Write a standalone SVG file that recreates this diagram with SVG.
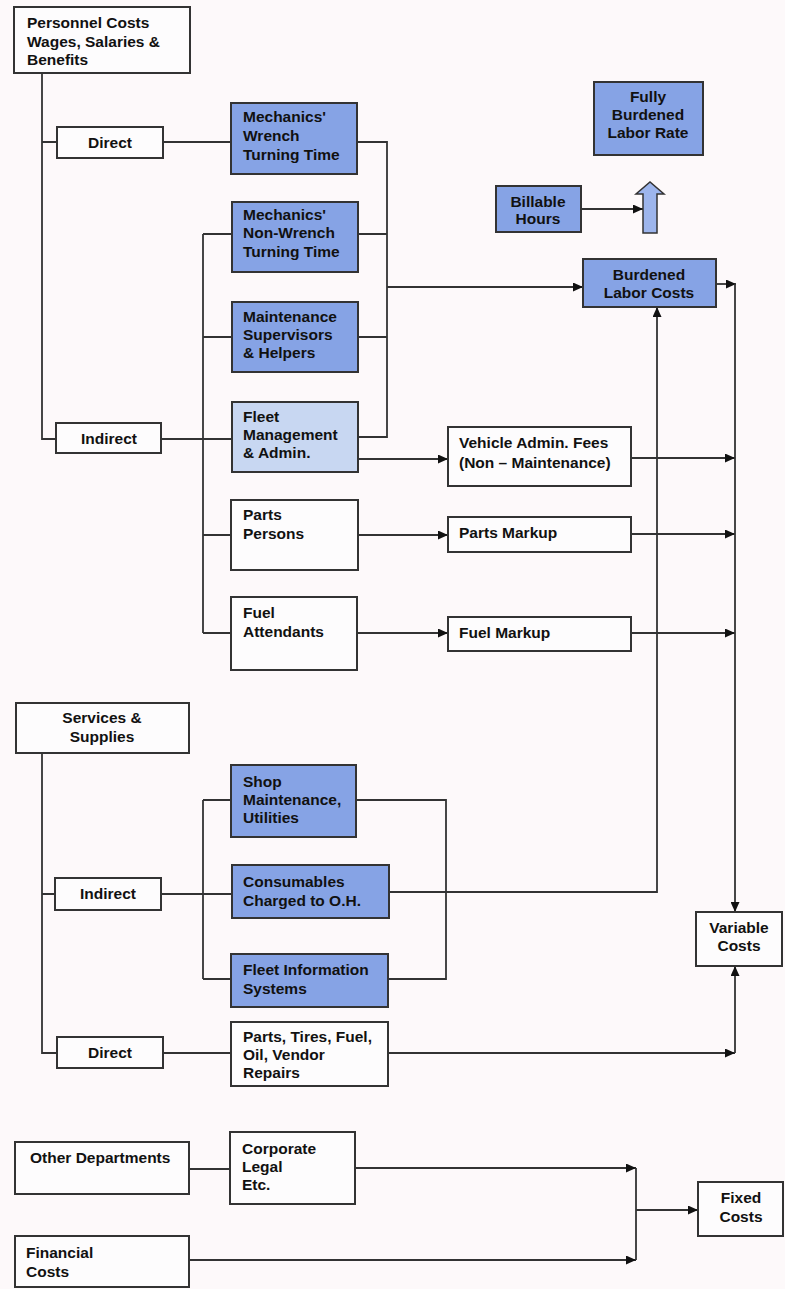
<svg xmlns="http://www.w3.org/2000/svg" width="785" height="1289" viewBox="0 0 785 1289">
<style>
.bg{fill:#fdf9fa}
.box{fill:#fdfcfd;stroke:#333;stroke-width:2}
.blue{fill:#86a3e5;stroke:#333;stroke-width:2}
.light{fill:#c8d7f2;stroke:#333;stroke-width:2}
.t{font-family:"Liberation Sans",Arial,sans-serif;font-weight:bold;font-size:15.5px;fill:#111}
.c{text-anchor:middle}
.ln{fill:none;stroke:#333;stroke-width:1.8}
</style>
<defs>
<marker id="ah" markerUnits="userSpaceOnUse" markerWidth="11" markerHeight="9" refX="10" refY="4.5" orient="auto">
<path d="M0,0 L10,4.5 L0,9 Z" fill="#111"/>
</marker>
</defs>
<rect class="bg" x="0" y="0" width="785" height="1289"/>
<g id="connectors">
<path class="ln" d="M42,73 V439 H56 M42,142 H57"/>
<path class="ln" d="M163,142 H231"/>
<path class="ln" d="M161,439 H232 M203,234 V633 M203,234 H232 M203,337 H232 M203,535 H231 M203,633 H231"/>
<path class="ln" d="M357,142 H387 V437 H358 M358,234 H387 M358,337 H387"/>
<path class="ln" d="M387,287 H583" marker-end="url(#ah)"/>
<path class="ln" d="M358,459 H448" marker-end="url(#ah)"/>
<path class="ln" d="M358,535 H448" marker-end="url(#ah)"/>
<path class="ln" d="M358,633 H448" marker-end="url(#ah)"/>
<path class="ln" d="M631,458 H735" marker-end="url(#ah)"/>
<path class="ln" d="M631,534 H735" marker-end="url(#ah)"/>
<path class="ln" d="M631,633 H735" marker-end="url(#ah)"/>
<path class="ln" d="M716,284 H736" marker-end="url(#ah)"/>
<path class="ln" d="M735,284 V912" marker-end="url(#ah)"/>
<path class="ln" d="M389,892 H657 V307" marker-end="url(#ah)"/>
<path class="ln" d="M356,800 H446 V979 H388"/>
<path class="ln" d="M42,753 V1053 H57 M42,894 H55"/>
<path class="ln" d="M161,894 H232 M203,800 V979 M203,800 H231 M203,979 H231"/>
<path class="ln" d="M163,1053 H231"/>
<path class="ln" d="M388,1053 H735" marker-end="url(#ah)"/>
<path class="ln" d="M735,1053 V966" marker-end="url(#ah)"/>
<path class="ln" d="M189,1169 H230"/>
<path class="ln" d="M355,1168 H636" marker-end="url(#ah)"/>
<path class="ln" d="M189,1260 H636" marker-end="url(#ah)"/>
<path class="ln" d="M636,1168 V1260"/>
<path class="ln" d="M636,1210 H698" marker-end="url(#ah)"/>
<path class="ln" d="M581,209 H643" marker-end="url(#ah)"/>
<polygon points="643,233 657,233 657,194 664,194 650,182 636,194 643,194" fill="#9db5ec" stroke="#333" stroke-width="1.5"/>
</g>
<g id="personnel"><rect class="box" x="14" y="7" width="176" height="66"/>
<text class="t" x="27" y="28">Personnel Costs</text><text class="t" x="27" y="47">Wages, Salaries &amp;</text><text class="t" x="27" y="65">Benefits</text></g>
<g id="direct1"><rect class="box" x="57" y="127" width="106" height="31"/><text class="t c" x="110" y="148">Direct</text></g>
<g id="wrench"><rect class="blue" x="231" y="103" width="126" height="71"/>
<text class="t" x="243" y="122">Mechanics'</text><text class="t" x="243" y="141">Wrench</text><text class="t" x="243" y="160">Turning Time</text></g>
<g id="nonwrench"><rect class="blue" x="232" y="202" width="126" height="70"/>
<text class="t" x="243" y="220">Mechanics'</text><text class="t" x="243" y="238">Non-Wrench</text><text class="t" x="243" y="257">Turning Time</text></g>
<g id="supervisors"><rect class="blue" x="232" y="302" width="126" height="70"/>
<text class="t" x="243" y="322">Maintenance</text><text class="t" x="243" y="340">Supervisors</text><text class="t" x="243" y="358">&amp; Helpers</text></g>
<g id="fleetmgmt"><rect class="light" x="232" y="402" width="126" height="70"/>
<text class="t" x="243" y="422">Fleet</text><text class="t" x="243" y="440">Management</text><text class="t" x="243" y="458">&amp; Admin.</text></g>
<g id="indirect1"><rect class="box" x="56" y="423" width="105" height="30"/><text class="t c" x="109" y="444">Indirect</text></g>
<g id="partspersons"><rect class="box" x="231" y="500" width="127" height="70"/>
<text class="t" x="243" y="520">Parts</text><text class="t" x="243" y="539">Persons</text></g>
<g id="fuelatt"><rect class="box" x="231" y="597" width="126" height="73"/>
<text class="t" x="243" y="618">Fuel</text><text class="t" x="243" y="637">Attendants</text></g>
<g id="vehicleadmin"><rect class="box" x="448" y="427" width="183" height="59"/>
<text class="t" x="459" y="448">Vehicle Admin. Fees</text><text class="t" x="459" y="468">(Non – Maintenance)</text></g>
<g id="partsmarkup"><rect class="box" x="448" y="517" width="183" height="35"/><text class="t" x="459" y="538">Parts Markup</text></g>
<g id="fuelmarkup"><rect class="box" x="448" y="617" width="183" height="34"/><text class="t" x="459" y="638">Fuel Markup</text></g>
<g id="fullyburdened"><rect class="blue" x="594" y="82" width="109" height="73"/>
<text class="t c" x="648" y="102">Fully</text><text class="t c" x="648" y="120">Burdened</text><text class="t c" x="648" y="138">Labor Rate</text></g>
<g id="billable"><rect class="blue" x="496" y="186" width="85" height="46"/>
<text class="t c" x="538" y="207">Billable</text><text class="t c" x="538" y="224">Hours</text></g>
<g id="burdened"><rect class="blue" x="583" y="259" width="133" height="48"/>
<text class="t c" x="649" y="280">Burdened</text><text class="t c" x="649" y="298">Labor Costs</text></g>
<g id="services"><rect class="box" x="16" y="703" width="173" height="50"/>
<text class="t c" x="102" y="723">Services &amp;</text><text class="t c" x="102" y="742">Supplies</text></g>
<g id="shopmaint"><rect class="blue" x="231" y="765" width="125" height="72"/>
<text class="t" x="243" y="787">Shop</text><text class="t" x="243" y="805">Maintenance,</text><text class="t" x="243" y="823">Utilities</text></g>
<g id="indirect2"><rect class="box" x="55" y="878" width="106" height="32"/><text class="t c" x="108" y="899">Indirect</text></g>
<g id="consumables"><rect class="blue" x="232" y="865" width="157" height="53"/>
<text class="t" x="243" y="887">Consumables</text><text class="t" x="243" y="906">Charged to O.H.</text></g>
<g id="fleetinfo"><rect class="blue" x="231" y="954" width="157" height="53"/>
<text class="t" x="243" y="975">Fleet Information</text><text class="t" x="243" y="994">Systems</text></g>
<g id="direct2"><rect class="box" x="57" y="1037" width="106" height="31"/><text class="t c" x="110" y="1058">Direct</text></g>
<g id="partstires"><rect class="box" x="231" y="1022" width="157" height="64"/>
<text class="t" x="243" y="1042">Parts, Tires, Fuel,</text><text class="t" x="243" y="1060">Oil, Vendor</text><text class="t" x="243" y="1078">Repairs</text></g>
<g id="variable"><rect class="box" x="696" y="912" width="86" height="54"/>
<text class="t c" x="739" y="933">Variable</text><text class="t c" x="739" y="951">Costs</text></g>
<g id="otherdept"><rect class="box" x="15" y="1142" width="174" height="52"/><text class="t" x="30" y="1163">Other Departments</text></g>
<g id="corporate"><rect class="box" x="230" y="1132" width="125" height="72"/>
<text class="t" x="242" y="1154">Corporate</text><text class="t" x="242" y="1172">Legal</text><text class="t" x="242" y="1190">Etc.</text></g>
<g id="financial"><rect class="box" x="15" y="1236" width="174" height="51"/>
<text class="t" x="26" y="1258">Financial</text><text class="t" x="26" y="1277">Costs</text></g>
<g id="fixed"><rect class="box" x="698" y="1182" width="85" height="54"/>
<text class="t c" x="741" y="1203">Fixed</text><text class="t c" x="741" y="1222">Costs</text></g>
</svg>
